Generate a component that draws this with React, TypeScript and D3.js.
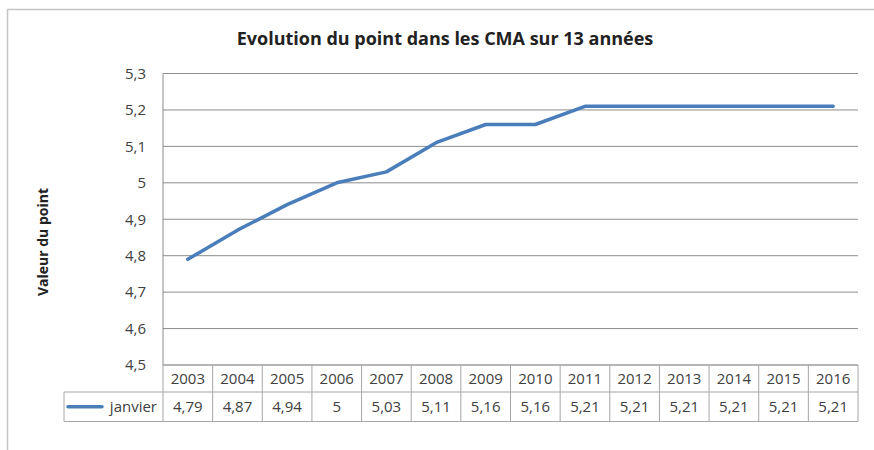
import React from 'react';
import * as d3 from 'd3';

const years = ['2003', '2004', '2005', '2006', '2007', '2008', '2009', '2010', '2011', '2012', '2013', '2014', '2015', '2016'];
const janvier = [4.79, 4.87, 4.94, 5, 5.03, 5.11, 5.16, 5.16, 5.21, 5.21, 5.21, 5.21, 5.21, 5.21];
const yTicks = [4.5, 4.6, 4.7, 4.8, 4.9, 5, 5.1, 5.2, 5.3];
const seriesName = 'janvier';
const title = 'Evolution du point dans les CMA sur 13 années';
const yAxisLabel = 'Valeur du point';

const width = 874;
const height = 450;
const font = '"Open Sans", "DejaVu Sans", sans-serif';
const lineColor = '#4a7ebb';
const gridColor = '#8c8c8c';
const tableColor = '#a6a6a6';
const textColor = '#404040';

const frLocale = d3.formatLocale({ decimal: ',', thousands: ' ', grouping: [3], currency: ['', ' €'] });
const fmt = frLocale.format('~g');

const App: React.FC = () => {
  const plot = { left: 163, right: 858, top: 73.5, bottom: 365 };
  const rowH = [27, 29.5];
  const legendLeft = 64;

  const x = d3.scaleBand<string>()
    .domain(years)
    .range([plot.left, plot.right]);

  const y = d3.scaleLinear()
    .domain([4.5, 5.3])
    .range([plot.bottom, plot.top]);

  const cx = (yr: string) => x(yr)! + x.bandwidth() / 2;

  const line = d3.line<number>()
    .x((_, i) => cx(years[i]))
    .y(d => y(d));

  const headerTop = plot.bottom;
  const dataTop = headerTop + rowH[0];
  const tableBottom = dataTop + rowH[1];

  return (
    <svg
      width={width}
      height={height}
      style={{ position: 'fixed', left: 0, top: 0, background: '#fff' }}
    >
      {/* chart frame, cropped at right and bottom */}
      <path d={`M7.5,${height} V9.5 H${width}`} fill="none" stroke="#c4c4c4" strokeWidth={1.5} />

      <text x={445} y={45} textAnchor="middle" fontFamily={font} fontSize={18} fontWeight="bold" fill="#222">
        {title}
      </text>

      <text
        transform={`translate(48,242) rotate(-90)`}
        textAnchor="middle"
        fontFamily={font}
        fontSize={14}
        fontWeight="bold"
        fill="#222"
      >
        {yAxisLabel}
      </text>

      {/* gridlines and tick labels */}
      {yTicks.map(t => (
        <g key={t}>
          <line x1={plot.left} x2={plot.right} y1={y(t)} y2={y(t)} stroke={gridColor} strokeWidth={1} />
          <text x={146} y={y(t)} dy="0.35em" textAnchor="end" fontFamily={font} fontSize={15} fill={textColor}>
            {fmt(t)}
          </text>
        </g>
      ))}

      {/* axis line */}
      <line x1={plot.left} x2={plot.left} y1={plot.top} y2={plot.bottom} stroke={gridColor} strokeWidth={1} />

      {/* data table */}
      <g stroke={tableColor} strokeWidth={1} fill="none">
        <line x1={plot.left} x2={plot.right} y1={headerTop} y2={headerTop} />
        <line x1={legendLeft} x2={plot.right} y1={dataTop} y2={dataTop} />
        <line x1={legendLeft} x2={plot.right} y1={tableBottom} y2={tableBottom} />
        <line x1={legendLeft} x2={legendLeft} y1={dataTop} y2={tableBottom} />
        {years.map(yr => (
          <line key={yr} x1={x(yr)!} x2={x(yr)!} y1={headerTop} y2={tableBottom} />
        ))}
        <line x1={plot.right} x2={plot.right} y1={headerTop} y2={tableBottom} />
      </g>

      {years.map((yr, i) => (
        <g key={yr} fontFamily={font} fontSize={15} fill={textColor} textAnchor="middle">
          <text x={cx(yr)} y={headerTop + rowH[0] / 2} dy="0.35em">{yr}</text>
          <text x={cx(yr)} y={dataTop + rowH[1] / 2} dy="0.35em">{fmt(janvier[i])}</text>
        </g>
      ))}

      <line
        x1={68}
        x2={102}
        y1={dataTop + rowH[1] / 2}
        y2={dataTop + rowH[1] / 2}
        stroke={lineColor}
        strokeWidth={3.5}
        strokeLinecap="round"
      />
      <text x={157} y={dataTop + rowH[1] / 2} dy="0.35em" textAnchor="end" fontFamily={font} fontSize={15} fill={textColor}>
        {seriesName}
      </text>

      {/* series line */}
      <path d={line(janvier) ?? ''} fill="none" stroke={lineColor} strokeWidth={3.5} strokeLinejoin="round" strokeLinecap="round" />
    </svg>
  );
};

export default App;
